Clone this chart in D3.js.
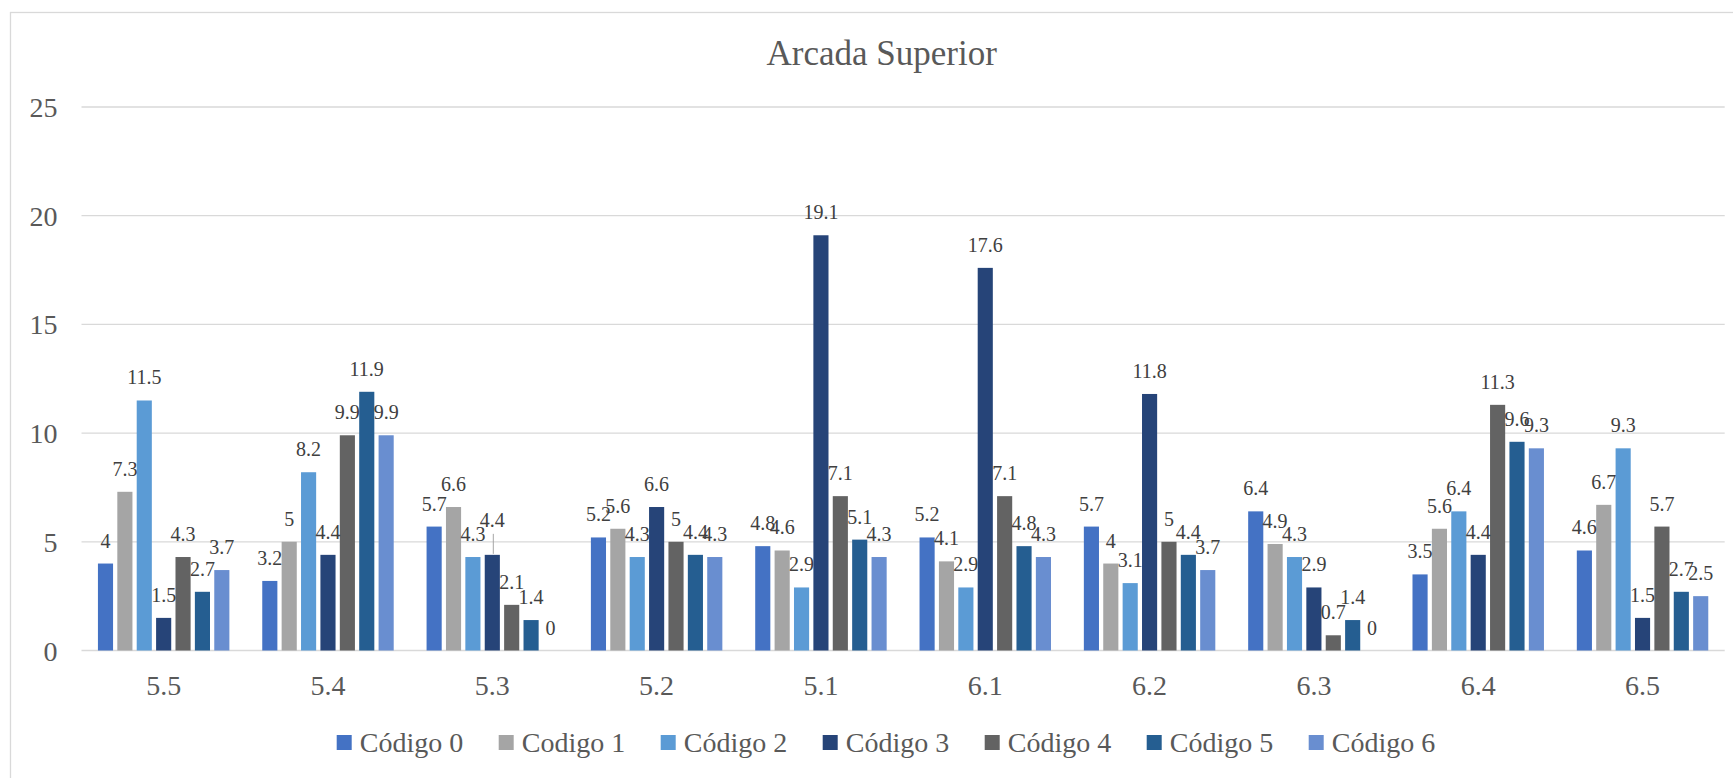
<!DOCTYPE html>
<html>
<head>
<meta charset="utf-8">
<script src="https://cdn.jsdelivr.net/npm/d3@7"></script>
<style>
  html, body { margin: 0; padding: 0; background: #fff; }
  svg { display: block; }
  svg text { font-family: "Liberation Serif", "Times New Roman", Times, "DejaVu Serif", serif; }
</style>
</head>
<body>
<svg id="chart" width="1733" height="778"></svg>
<script>
// ---- Data ----
const title = "Arcada Superior";
const categories = ["5.5", "5.4", "5.3", "5.2", "5.1", "6.1", "6.2", "6.3", "6.4", "6.5"];
const seriesNames = ["Código 0", "Codigo 1", "Código 2", "Código 3", "Código 4", "Código 5", "Código 6"];
const codigo0 = [4, 3.2, 5.7, 5.2, 4.8, 5.2, 5.7, 6.4, 3.5, 4.6];
const codigo1 = [7.3, 5, 6.6, 5.6, 4.6, 4.1, 4, 4.9, 5.6, 6.7];
const codigo2 = [11.5, 8.2, 4.3, 4.3, 2.9, 2.9, 3.1, 4.3, 6.4, 9.3];
const codigo3 = [1.5, 4.4, 4.4, 6.6, 19.1, 17.6, 11.8, 2.9, 4.4, 1.5];
const codigo4 = [4.3, 9.9, 2.1, 5, 7.1, 7.1, 5, 0.7, 11.3, 5.7];
const codigo5 = [2.7, 11.9, 1.4, 4.4, 5.1, 4.8, 4.4, 1.4, 9.6, 2.7];
const codigo6 = [3.7, 9.9, 0, 4.3, 4.3, 4.3, 3.7, 0, 9.3, 2.5];
const yTicks = [0, 5, 10, 15, 20, 25];

const seriesValues = [codigo0, codigo1, codigo2, codigo3, codigo4, codigo5, codigo6];
const colors = ["#4472C4", "#A5A5A5", "#5B9BD5", "#264478", "#636363", "#255E91", "#698ED0"];
const FONT = "'Liberation Serif', 'Times New Roman', Times, serif";

// ---- Layout ----
const svg = d3.select("#chart");
const plot = { left: 81.5, right: 1724.7, top: 107, bottom: 650.5 };

// chart border
svg.append("rect")
  .attr("x", 10.5).attr("y", 12.5)
  .attr("width", 1760).attr("height", 800)
  .attr("fill", "#fff").attr("stroke", "#d9d9d9").attr("stroke-width", 1.3);

const x0 = d3.scaleBand().domain(categories)
  .range([plot.left, plot.right]).paddingInner(0.2).paddingOuter(0.1);
const x1 = d3.scaleBand().domain(d3.range(seriesNames.length))
  .range([0, x0.bandwidth()]).paddingInner(0.22).paddingOuter(0);
const y = d3.scaleLinear().domain([0, 25]).range([plot.bottom, plot.top]);

// gridlines
svg.append("g").selectAll("line").data(yTicks).join("line")
  .attr("x1", plot.left).attr("x2", plot.right)
  .attr("y1", d => y(d)).attr("y2", d => y(d))
  .attr("stroke", "#d9d9d9").attr("stroke-width", 1.3);

// y axis labels
const yAxis = svg.append("g").attr("transform", `translate(${plot.left - 24},0)`)
  .call(d3.axisLeft(y).tickValues(yTicks).tickSize(0).tickPadding(0));
yAxis.select(".domain").remove();
yAxis.selectAll("text")
  .attr("font-family", FONT).attr("font-size", 28)
  .attr("fill", "#595959").attr("dy", "0.34em");

// x axis labels
const xAxis = svg.append("g").attr("transform", `translate(0,${plot.bottom})`)
  .call(d3.axisBottom(x0).tickSize(0).tickPadding(0));
xAxis.select(".domain").remove();
xAxis.selectAll("text")
  .attr("font-family", FONT).attr("font-size", 28)
  .attr("fill", "#595959").attr("y", 44.5).attr("dy", 0);

// bars
const cells = [];
categories.forEach((c, ci) => {
  seriesValues.forEach((vals, si) => cells.push({ cat: c, ci, si, v: vals[ci] }));
});

svg.append("g").selectAll("rect").data(cells).join("rect")
  .attr("x", d => x0(d.cat) + x1(d.si))
  .attr("width", x1.bandwidth())
  .attr("y", d => y(d.v))
  .attr("height", d => y(0) - y(d.v))
  .attr("fill", d => colors[d.si]);

// leader line for the moved label (5.3, Código 3)
const moved = { "5.3|3": -12 };
cells.filter(d => moved[d.cat + "|" + d.si] !== undefined).forEach(d => {
  const cx = x0(d.cat) + x1(d.si) + x1.bandwidth() / 2;
  svg.append("line")
    .attr("x1", cx + 1).attr("x2", cx + 1)
    .attr("y1", y(d.v) - 1).attr("y2", y(d.v) - 21)
    .attr("stroke", "#a6a6a6").attr("stroke-width", 1);
});

// data labels
svg.append("g").selectAll("text").data(cells).join("text")
  .attr("x", d => x0(d.cat) + x1(d.si) + x1.bandwidth() / 2)
  .attr("y", d => y(d.v) - 16 + (moved[d.cat + "|" + d.si] || 0))
  .attr("text-anchor", "middle")
  .attr("font-family", FONT).attr("font-size", 20)
  .attr("fill", "#404040")
  .text(d => d3.format("~g")(d.v));

// title
svg.append("text")
  .attr("x", 881.7).attr("y", 65)
  .attr("text-anchor", "middle")
  .attr("font-family", FONT).attr("font-size", 35)
  .attr("fill", "#595959")
  .text(title);

// legend
const legend = svg.append("g").attr("transform", "translate(336.7,735)");
const items = legend.selectAll("g").data(seriesNames).join("g")
  .attr("transform", (d, i) => `translate(${i * 162},0)`);
items.append("rect").attr("width", 15).attr("height", 15)
  .attr("fill", (d, i) => colors[i]);
items.append("text").attr("x", 23).attr("y", 17)
  .attr("font-family", FONT).attr("font-size", 28)
  .attr("fill", "#595959").text(d => d);
</script>
</body>
</html>
